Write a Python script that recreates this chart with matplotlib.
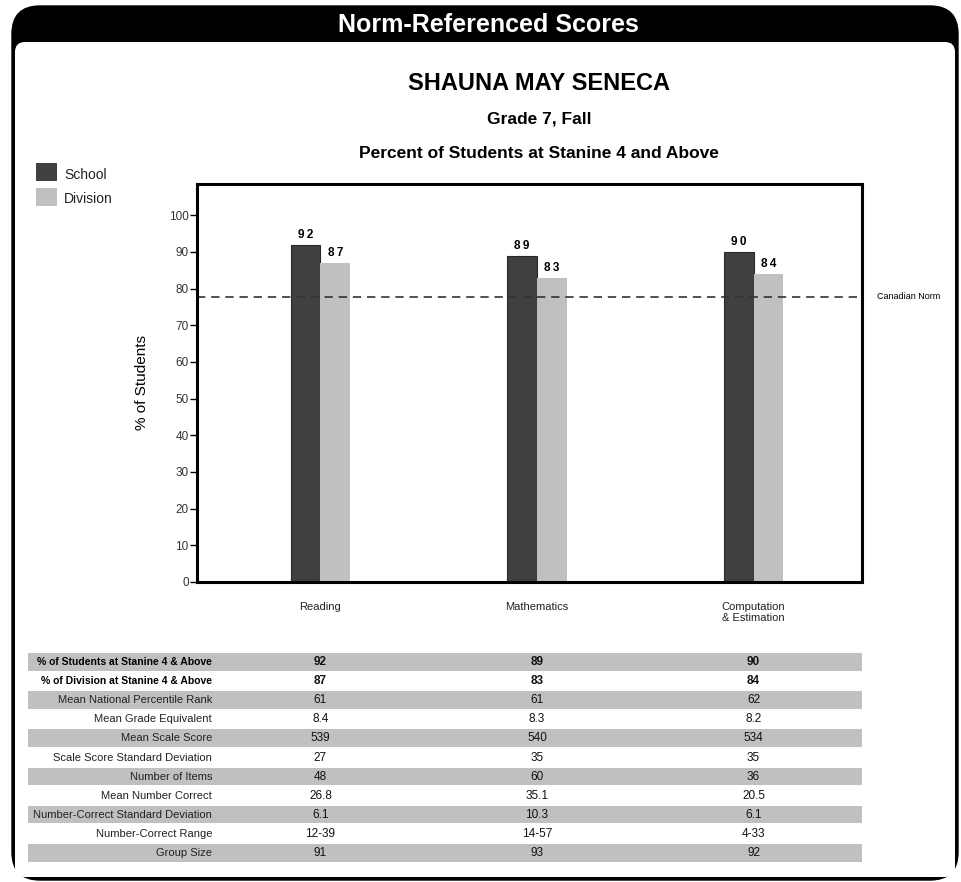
import matplotlib
matplotlib.use("Agg")
import matplotlib.pyplot as plt
from matplotlib.patches import FancyBboxPatch, Rectangle
import numpy as np

plt.rcParams['font.family'] = ['Liberation Sans', 'DejaVu Sans']

# Data
subjects = ['Reading', 'Mathematics', 'Computation\n& Estimation']
school = [92, 89, 90]
division = [87, 83, 84]
canadian_norm = 77.7

row_labels = ['% of Students at Stanine 4 & Above', '% of Division at Stanine 4 & Above',
              'Mean National Percentile Rank', 'Mean Grade Equivalent', 'Mean Scale Score',
              'Scale Score Standard Deviation', 'Number of Items', 'Mean Number Correct',
              'Number-Correct Standard Deviation', 'Number-Correct Range', 'Group Size']
reading_vals = ['92', '87', '61', '8.4', '539', '27', '48', '26.8', '6.1', '12-39', '91']
math_vals = ['89', '83', '61', '8.3', '540', '35', '60', '35.1', '10.3', '14-57', '93']
comp_vals = ['90', '84', '62', '8.2', '534', '35', '36', '20.5', '6.1', '4-33', '92']

DARK = '#404040'
LIGHT = '#c0c0c0'

W, H = 961, 882
fig = plt.figure(figsize=(W / 100, H / 100), dpi=100)

# background / frame layer in pixel coords
bg = fig.add_axes([0, 0, 1, 1], zorder=0)
bg.set_xlim(0, W)
bg.set_ylim(H, 0)
bg.axis('off')

bg.add_patch(FancyBboxPatch((12, 6), 946, 874, boxstyle='round,pad=0,rounding_size=28',
                            facecolor='black', edgecolor='black', lw=1))
bg.add_patch(FancyBboxPatch((15, 42), 940, 835, boxstyle='round,pad=0,rounding_size=10',
                            facecolor='white', edgecolor='none'))
bg.text(488, 25, 'Norm-Referenced Scores', color='white', fontsize=18, fontweight='bold',
        ha='center', va='center')

# titles
bg.text(539, 83, 'SHAUNA MAY SENECA', fontsize=17, fontweight='bold', ha='center', va='center')
bg.text(539, 119, 'Grade 7, Fall', fontsize=12.5, fontweight='bold', ha='center', va='center')
bg.text(539, 153, 'Percent of Students at Stanine 4 and Above', fontsize=12.5,
        fontweight='bold', ha='center', va='center')

# legend
bg.add_patch(Rectangle((36, 163), 21, 18, facecolor=DARK, edgecolor='none'))
bg.add_patch(Rectangle((36, 188), 21, 18, facecolor=LIGHT, edgecolor='none'))
bg.text(64, 175, 'School', fontsize=10, va='center', color='#222222')
bg.text(64, 199, 'Division', fontsize=10, va='center', color='#222222')

# chart
ax_l, ax_r, ax_t, ax_b = 197, 862, 184, 582
ax = fig.add_axes([ax_l / W, 1 - ax_b / H, (ax_r - ax_l) / W, (ax_b - ax_t) / H], zorder=1)
x = np.arange(len(subjects))
bw = 0.138
ax.bar(x - bw / 2, school, bw, color=DARK, edgecolor='#2a2a2a', lw=0.8)
ax.bar(x + bw / 2, division, bw, color=LIGHT, edgecolor='none')
for xi, s, d in zip(x, school, division):
    ax.text(xi - bw / 2, s + 1, '\u2009'.join(str(s)), ha='center', va='bottom',
            fontsize=8.5, fontweight='bold')
    ax.text(xi + bw / 2, d + 1, '\u2009'.join(str(d)), ha='center', va='bottom',
            fontsize=8.5, fontweight='bold')
ax.axhline(canadian_norm, color='#333333', ls=(0, (5, 3.5)), lw=1.2)
ax.text(1.022, canadian_norm, 'Canadian Norm', transform=ax.get_yaxis_transform(),
        fontsize=6.5, va='center', ha='left')

ax.set_xlim(-0.570, 2.501)
ax.set_ylim(0, 108.5)
ax.set_yticks(range(0, 101, 10))
ax.tick_params(axis='y', labelsize=8.5, length=5, width=1, pad=1, labelcolor='#333333')
ax.set_xticks([])
for sp in ax.spines.values():
    sp.set_linewidth(2.2)
ax.set_ylabel('% of Students', fontsize=11, labelpad=14)

for xi, name in zip(x, subjects):
    ax.text(xi, -5.4, name, ha='center', va='top', fontsize=8, linespacing=1.2,
            transform=ax.transData, clip_on=False, color='#222222')

# table
col_x = [ax_l + (xi + 0.570) / (2.501 + 0.570) * (ax_r - ax_l) for xi in x]
row_top, row_h = 653, 19.1
columns = [reading_vals, math_vals, comp_vals]
for i, label in enumerate(row_labels):
    y0 = row_top + i * row_h
    if i % 2 == 0:
        bg.add_patch(Rectangle((28, y0), 834, row_h - 1.5, facecolor=LIGHT, edgecolor='none'))
    yc = y0 + row_h / 2 - 0.5
    bold = i < 2
    if bold:
        bg.text(212, yc, label, ha='right', va='center', fontsize=7.5, fontweight='bold')
    else:
        bg.text(212, yc, label, ha='right', va='center', fontsize=8, color='#222222')
    for cx, vals in zip(col_x, columns):
        bg.text(cx, yc, vals[i], ha='center', va='center', fontsize=8.5,
                fontweight='bold' if bold else 'normal', color='#111111')

fig.savefig('out.png', dpi=100, facecolor='white')
